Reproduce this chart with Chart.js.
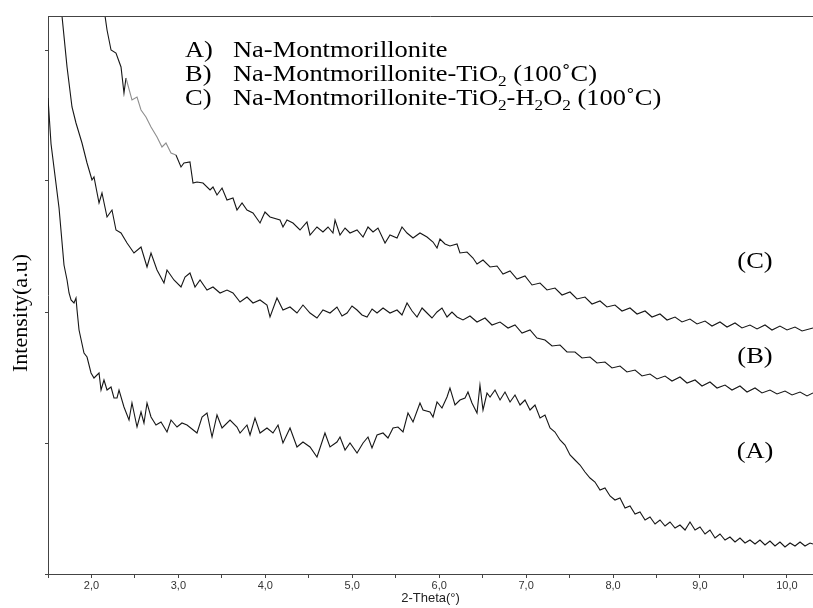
<!DOCTYPE html>
<html>
<head>
<meta charset="utf-8">
<script src="https://cdn.jsdelivr.net/npm/chart.js@4.4.1/dist/chart.umd.min.js"></script>
<style>
  html, body { margin: 0; padding: 0; background: #fff; }
  #xrd { display: block; }
</style>
</head>
<body>
<canvas id="xrd" width="813" height="608"></canvas>
<script>
// 2-Theta (deg) and intensity (a.u.)
const aTheta = [
  1.500,1.535,1.627,1.684,1.719,1.742,1.765,1.799,1.822,1.834,
  1.857,1.914,1.949,1.995,2.029,2.087,2.110,2.144,2.179,2.225,
  2.259,2.294,2.317,2.374,2.432,2.466,2.524,2.570,2.604,2.639,
  2.685,2.742,2.800,2.869,2.915,2.984,3.041,3.099,3.214,3.272,
  3.329,3.387,3.444,3.502,3.594,3.674,3.709,3.789,3.824,3.881,
  3.939,4.019,4.088,4.146,4.203,4.284,4.364,4.433,4.514,4.594,
  4.629,4.686,4.744,4.824,4.859,4.917,4.974,5.055,5.124,5.181,
  5.227,5.285,5.354,5.411,5.469,5.526,5.584,5.641,5.699,5.779,
  5.814,5.894,5.929,5.975,6.032,6.090,6.124,6.182,6.239,6.297,
  6.331,6.377,6.435,6.469,6.504,6.550,6.585,6.642,6.700,6.757,
  6.815,6.872,6.930,6.987,7.045,7.102,7.160,7.217,7.275,7.332,
  7.390,7.447,7.505,7.562,7.620,7.677,7.735,7.792,7.850,7.907,
  7.965,8.022,8.080,8.138,8.195,8.253,8.310,8.368,8.425,8.483,
  8.540,8.598,8.655,8.713,8.770,8.828,8.885,8.943,9.000,9.058,
  9.115,9.173,9.230,9.288,9.345,9.403,9.460,9.518,9.575,9.633,
  9.690,9.748,9.805,9.863,9.920,9.978,10.036,10.093,10.151,10.208,
  10.266,10.300
];
const aIntensity = [
  476,430,366,309,294,281,274,271,276,264,
  244,221,217,201,196,201,184,194,184,187,
  176,176,184,167,154,171,147,162,151,171,
  157,149,152,142,154,147,151,149,141,157,
  161,137,159,146,154,147,141,149,139,156,
  141,146,141,149,131,146,127,132,127,117,
  126,141,127,132,137,124,131,121,131,137,
  126,139,141,136,146,147,142,161,152,171,
  164,162,157,172,166,177,186,169,174,176,
  182,171,161,189,164,181,177,184,174,182,
  172,179,169,174,164,169,156,159,146,142,
  134,129,119,114,109,102,96,92,84,86,
  78,74,76,66,68,60,62,54,57,50,
  54,48,52,46,49,44,52,44,47,40,
  44,36,40,34,37,32,36,31,34,30,
  34,29,33,28,32,27,31,28,32,28,
  31,30
];

const bTheta = [
  1.661,1.719,1.776,1.822,1.891,1.949,2.006,2.029,2.087,2.121,
  2.179,2.236,2.282,2.340,2.409,2.489,2.570,2.639,2.685,2.754,
  2.834,2.869,2.949,3.030,3.076,3.133,3.191,3.249,3.329,3.398,
  3.479,3.559,3.628,3.709,3.789,3.858,3.939,4.019,4.054,4.134,
  4.203,4.284,4.364,4.433,4.514,4.594,4.663,4.744,4.824,4.882,
  4.940,4.997,5.055,5.112,5.170,5.228,5.285,5.354,5.434,5.515,
  5.572,5.630,5.688,5.745,5.803,5.860,5.917,5.975,6.032,6.090,
  6.147,6.205,6.274,6.354,6.435,6.527,6.607,6.700,6.792,6.872,
  6.953,7.045,7.125,7.217,7.298,7.390,7.470,7.562,7.643,7.735,
  7.815,7.907,7.988,8.080,8.160,8.253,8.333,8.425,8.506,8.598,
  8.678,8.770,8.851,8.943,9.023,9.115,9.196,9.288,9.368,9.460,
  9.541,9.633,9.713,9.805,9.886,9.978,10.059,10.151,10.231,10.300
];
const bIntensity = [
  558,507,467,451,431,411,394,397,371,381,
  357,364,344,341,331,321,327,307,321,304,
  291,304,294,287,297,301,287,294,284,287,
  281,284,281,272,277,271,274,269,257,276,
  264,267,261,269,261,256,264,261,267,258,
  261,268,264,259,257,265,261,266,261,264,
  259,271,263,257,266,261,256,262,266,257,
  262,257,254,258,252,256,249,252,246,249,
  241,244,236,234,228,229,222,222,216,217,
  211,212,206,208,202,204,198,200,195,198,
  193,197,191,194,188,192,186,189,184,188,
  182,186,181,184,180,183,179,182,178,181
];

const cTheta = [
  2.156,2.179,2.225,2.282,2.340,2.374,2.397,2.466,2.524,2.570,
  2.627,2.685,2.754,2.811,2.857,2.915,2.972,3.030,3.064,3.133,
  3.168,3.214,3.283,3.364,3.398,3.444,3.502,3.559,3.628,3.674,
  3.732,3.789,3.858,3.939,3.996,4.054,4.169,4.203,4.249,4.318,
  4.399,4.479,4.514,4.594,4.663,4.721,4.778,4.802,4.859,4.917,
  4.974,5.055,5.124,5.181,5.239,5.296,5.377,5.434,5.515,5.572,
  5.630,5.699,5.779,5.860,5.929,5.975,6.009,6.067,6.124,6.205,
  6.239,6.320,6.389,6.435,6.504,6.585,6.665,6.734,6.815,6.895,
  6.987,7.068,7.160,7.240,7.332,7.413,7.505,7.585,7.677,7.758,
  7.850,7.930,8.022,8.103,8.195,8.276,8.368,8.448,8.540,8.621,
  8.713,8.793,8.885,8.966,9.058,9.138,9.230,9.311,9.403,9.483,
  9.575,9.656,9.748,9.828,9.920,10.001,10.093,10.174,10.300
];
const cIntensity = [
  558,544,524,521,507,481,496,474,477,464,
  457,447,437,427,431,421,419,407,411,412,
  391,392,391,384,387,379,386,374,376,364,
  371,364,361,351,362,357,354,347,354,351,
  344,352,339,347,342,347,341,354,339,346,
  341,344,337,347,342,346,331,339,336,347,
  341,336,341,337,332,326,335,330,328,330,
  321,322,316,310,314,307,308,300,303,295,
  298,289,291,284,286,279,282,275,277,270,
  273,267,269,263,266,260,263,257,260,254,
  257,252,255,250,253,248,252,247,251,246,
  249,245,249,244,248,244,247,243,246
];

const xTickValues = [1.5,2.0,2.5,3.0,3.5,4.0,4.5,5.0,5.5,6.0,6.5,7.0,7.5,8.0,8.5,9.0,9.5,10.0];
const yTickValues = [0, 131, 262, 393, 524];

const legendKeys = ['A)', 'B)', 'C)'];
// [text, isSubscript]
const legendNames = [
  [['Na-Montmorillonite', 0]],
  [['Na-Montmorillonite-TiO', 0], ['2', 1], [' (100\u02DAC)', 0]],
  [['Na-Montmorillonite-TiO', 0], ['2', 1], ['-H', 0], ['2', 1], ['O', 0], ['2', 1], [' (100\u02DAC)', 0]]
];
const curveLabels = ['(C)', '(B)', '(A)'];
const yTitle = 'Intensity(a.u)';
const xTitle = '2-Theta(\u00B0)';

const lineColor = '#161616';
const fadedColor = '#8e8e8e';

function makeSeries(xs, ys) {
    return xs.map((x, i) => ({ x: x, y: ys[i] }));
}

function baseDataset(data) {
    return {
        data: data,
        borderColor: lineColor,
        borderWidth: 1.1,
        pointRadius: 0,
        tension: 0,
        fill: false
    };
}

const datasetC = baseDataset(makeSeries(cTheta, cIntensity));
// the early part of trace C is printed lighter in the original
datasetC.segment = {
    borderColor: ctx => (ctx.p0.parsed.x >= 2.39 && ctx.p0.parsed.x < 2.97) ? fadedColor : lineColor
};

// draws the serif annotations, the rotated y title and the top frame line
const annotationPlugin = {
    id: 'xrdText',
    afterDraw(chart) {
        const c = chart.ctx;
        const area = chart.chartArea;
        const serif = "'Liberation Serif', 'Times New Roman', serif";
        const size = 23;
        const stretch = 1.15;

        c.save();
        c.strokeStyle = '#444';
        c.lineWidth = 1;
        c.beginPath();
        c.moveTo(area.left, area.top + 0.5);
        c.lineTo(area.right, area.top + 0.5);
        c.stroke();
        c.restore();

        const drawStretched = (text, x, y, font) => {
            c.save();
            c.font = font;
            c.translate(x, y);
            c.scale(stretch, 1);
            c.fillText(text, 0, 0);
            const w = c.measureText(text).width * stretch;
            c.restore();
            return w;
        };

        c.save();
        c.fillStyle = '#000';
        c.textBaseline = 'alphabetic';
        c.textAlign = 'left';
        legendKeys.forEach((key, i) => {
            const baseY = 57 + i * 24;
            drawStretched(key, 185, baseY, size + 'px ' + serif);
            let x = 233;
            legendNames[i].forEach(([txt, sub]) => {
                if (sub) {
                    x += drawStretched(txt, x, baseY + 5, Math.round(size * 0.65) + 'px ' + serif);
                } else {
                    x += drawStretched(txt, x, baseY, size + 'px ' + serif);
                }
            });
        });

        c.textBaseline = 'middle';
        const labelY = [262, 357, 452];
        curveLabels.forEach((lbl, i) => {
            c.font = size + 'px ' + serif;
            const w = c.measureText(lbl).width * stretch;
            drawStretched(lbl, 755 - w / 2, labelY[i], size + 'px ' + serif);
        });

        c.translate(21, 313);
        c.rotate(-Math.PI / 2);
        c.textAlign = 'center';
        c.font = '22px ' + serif;
        c.fillText(yTitle, 0, 0);
        c.restore();
    }
};

new Chart(document.getElementById('xrd'), {
    type: 'line',
    data: {
        datasets: [
            baseDataset(makeSeries(aTheta, aIntensity)),
            baseDataset(makeSeries(bTheta, bIntensity)),
            datasetC
        ]
    },
    options: {
        responsive: false,
        animation: false,
        layout: { padding: { top: 16, left: 0, right: 0, bottom: 0 } },
        plugins: {
            legend: { display: false },
            tooltip: { enabled: false }
        },
        scales: {
            x: {
                type: 'linear',
                min: 1.5,
                max: 10.3,
                afterBuildTicks: scale => { scale.ticks = xTickValues.map(v => ({ value: v })); },
                afterFit: scale => { scale.height = 34; },
                ticks: {
                    autoSkip: false,
                    maxRotation: 0,
                    padding: 1,
                    color: '#333',
                    font: { family: "'Liberation Sans', Arial, sans-serif", size: 11 },
                    callback: value => Math.abs(value - Math.round(value)) < 1e-6
                        ? value.toFixed(1).replace('.', ',') : ''
                },
                grid: { drawOnChartArea: false, tickLength: 4, color: '#444' },
                border: { color: '#444' },
                title: {
                    display: true,
                    text: xTitle,
                    color: '#222',
                    font: { family: "'Liberation Sans', Arial, sans-serif", size: 13 },
                    padding: { top: 0, bottom: 2 }
                }
            },
            y: {
                type: 'linear',
                min: 0,
                max: 558,
                afterBuildTicks: scale => { scale.ticks = yTickValues.map(v => ({ value: v })); },
                afterFit: scale => { scale.width = 48; },
                ticks: { display: false },
                grid: { drawOnChartArea: false, tickLength: 3, color: '#444' },
                border: { color: '#444' }
            }
        }
    },
    plugins: [annotationPlugin]
});
</script>
</body>
</html>
